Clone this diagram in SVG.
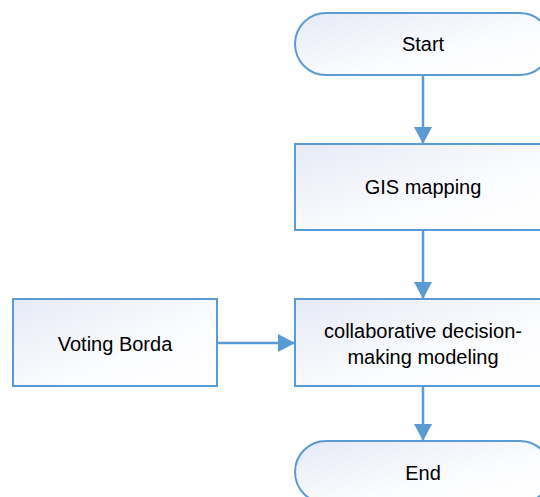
<svg xmlns="http://www.w3.org/2000/svg" width="540" height="497" viewBox="0 0 540 497">
<defs>
<linearGradient id="g" x1="0" y1="0" x2="1" y2="1">
<stop offset="0" stop-color="#e6eaf6"/>
<stop offset="0.6" stop-color="#fbfcfe"/>
<stop offset="1" stop-color="#ffffff"/>
</linearGradient>
<marker id="ah" markerWidth="18" markerHeight="18" viewBox="0 0 18 18" refX="17" refY="9" orient="auto" markerUnits="userSpaceOnUse">
<path d="M0,0 L17,9 L0,18 Z" fill="#5b9bd5"/>
</marker>
<style>
.n{fill:url(#g);stroke:#5b9bd5;stroke-width:2}
.t{font-family:"Liberation Sans",Arial,sans-serif;font-size:20px;fill:#000;text-anchor:middle}
.c{stroke:#5b9bd5;stroke-width:2.5;fill:none;marker-end:url(#ah)}
</style>
</defs>
<rect width="540" height="497" fill="#fff"/>
<g id="connectors">
<line class="c" x1="423" y1="75" x2="423" y2="144"/>
<line class="c" x1="423" y1="230" x2="423" y2="299"/>
<line class="c" x1="217" y1="343" x2="295" y2="343"/>
<line class="c" x1="423" y1="386" x2="423" y2="441"/>
</g>
<g id="start">
<rect class="n" x="295" y="13" width="256" height="62" rx="31" ry="31"/>
<text class="t" x="423" y="51">Start</text>
</g>
<g id="gis">
<rect class="n" x="295" y="144" width="256" height="86"/>
<text class="t" x="423" y="194">GIS mapping</text>
</g>
<g id="voting">
<rect class="n" x="13" y="299" width="204" height="87"/>
<text class="t" x="115" y="351">Voting Borda</text>
</g>
<g id="collab">
<rect class="n" x="295" y="299" width="256" height="87"/>
<text class="t" x="423" y="338">collaborative decision-</text>
<text class="t" x="423" y="364">making modeling</text>
</g>
<g id="end">
<rect class="n" x="295" y="441" width="256" height="62" rx="31" ry="31"/>
<text class="t" x="423" y="480">End</text>
</g>
</svg>
